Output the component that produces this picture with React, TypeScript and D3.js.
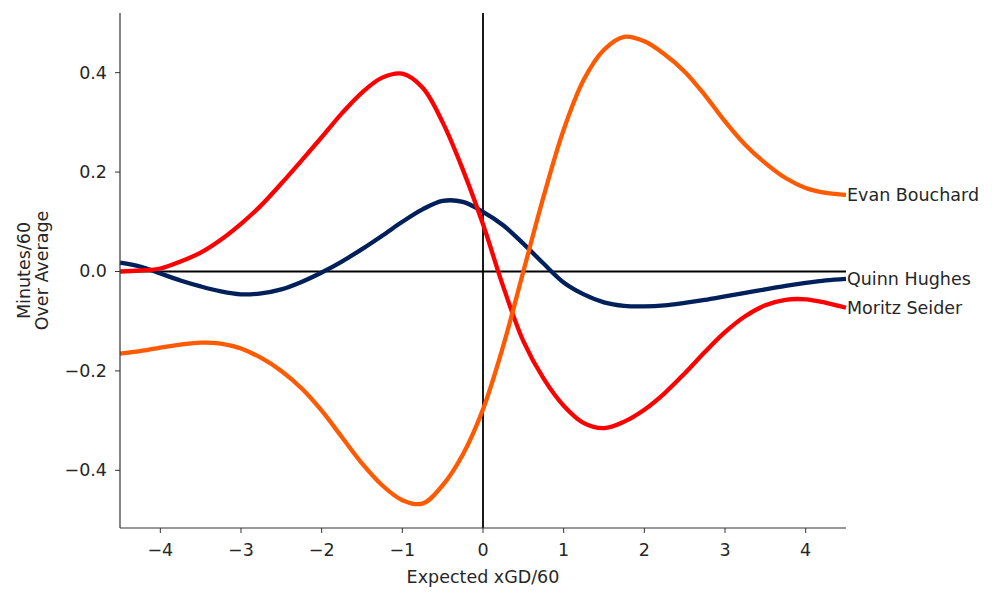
import React from "react";
import * as d3 from "d3";

const xValues = [-4.5, -4.25, -4.0, -3.75, -3.5, -3.25, -3.0, -2.75, -2.5, -2.25, -2.0, -1.75, -1.5, -1.25, -1.0, -0.75, -0.5, -0.25, 0, 0.25, 0.5, 0.75, 1.0, 1.25, 1.5, 1.75, 2.0, 2.25, 2.5, 2.75, 3.0, 3.25, 3.5, 3.75, 4.0, 4.25, 4.5];

const quinnHughes = [0.018, 0.01, -0.004, -0.018, -0.03, -0.04, -0.046, -0.044, -0.036, -0.021, -0.002, 0.02, 0.045, 0.072, 0.1, 0.125, 0.142, 0.14, 0.12, 0.093, 0.056, 0.016, -0.022, -0.046, -0.062, -0.069, -0.07, -0.068, -0.063, -0.057, -0.05, -0.043, -0.036, -0.029, -0.023, -0.018, -0.015];

const moritzSeider = [0.0, 0.002, 0.006, 0.02, 0.038, 0.064, 0.096, 0.133, 0.177, 0.223, 0.27, 0.318, 0.36, 0.39, 0.398, 0.37, 0.3, 0.205, 0.095, -0.03, -0.14, -0.215, -0.27, -0.305, -0.315, -0.302, -0.278, -0.245, -0.205, -0.162, -0.122, -0.09, -0.068, -0.057, -0.056, -0.063, -0.073];

const evanBouchard = [-0.165, -0.16, -0.153, -0.147, -0.143, -0.145, -0.155, -0.174, -0.2, -0.235, -0.28, -0.333, -0.386, -0.43, -0.46, -0.467, -0.43, -0.368, -0.277, -0.15, 0.0, 0.15, 0.285, 0.386, 0.446, 0.472, 0.463, 0.437, 0.402, 0.355, 0.302, 0.255, 0.218, 0.188, 0.168, 0.158, 0.154];

const seriesNames = ["Quinn Hughes", "Moritz Seider", "Evan Bouchard"];
const seriesValues = [quinnHughes, moritzSeider, evanBouchard];
const seriesColors = ["#00205B", "#FF0000", "#FF5A00"];

const xTicks = [-4, -3, -2, -1, 0, 1, 2, 3, 4];
const yTicks = [-0.4, -0.2, 0.0, 0.2, 0.4];

const W = 1000;
const H = 599;
const left = 120;
const right = 846;
const top = 13;
const bottom = 528;

const FONT = "DejaVu Sans, sans-serif";
const TEXT = "#262626";
const FS = 17.5;

export default function App() {
  const x = d3.scaleLinear().domain([-4.5, 4.5]).range([left, right]);
  const y = d3.scaleLinear().domain([-0.516, 0.52]).range([bottom, top]);

  const line = d3
    .line<number>()
    .x((_, i) => x(xValues[i]))
    .y((d) => y(d))
    .curve(d3.curveCatmullRom.alpha(0.5));

  const fmtY = (v: number) => v.toFixed(1).replace("-", "\u2212");
  const fmtX = (v: number) => String(v).replace("-", "\u2212");

  return (
    <svg
      width={W}
      height={H}
      style={{ position: "absolute", left: 0, top: 0, background: "#fff" }}
      fontFamily={FONT}
    >
      <line x1={left} x2={right} y1={y(0)} y2={y(0)} stroke="#000" strokeWidth={1.8} />
      <line x1={x(0)} x2={x(0)} y1={top} y2={bottom} stroke="#000" strokeWidth={1.8} />

      {seriesValues.map((vals, i) => (
        <path
          key={seriesNames[i]}
          d={line(vals) || ""}
          fill="none"
          stroke={seriesColors[i]}
          strokeWidth={4.3}
          strokeLinejoin="round"
          strokeLinecap="butt"
        />
      ))}

      <line x1={left} x2={left} y1={top} y2={bottom} stroke="#333" strokeWidth={1.2} />
      <line x1={left} x2={right} y1={bottom} y2={bottom} stroke="#333" strokeWidth={1.2} />

      {yTicks.map((t) => (
        <g key={"y" + t}>
          <line x1={left - 5} x2={left} y1={y(t)} y2={y(t)} stroke="#333" strokeWidth={1} />
          <text x={left - 13} y={y(t)} textAnchor="end" dominantBaseline="central" fontSize={FS} fill={TEXT}>
            {fmtY(t)}
          </text>
        </g>
      ))}

      {xTicks.map((t) => (
        <g key={"x" + t}>
          <line x1={x(t)} x2={x(t)} y1={bottom} y2={bottom + 5} stroke="#333" strokeWidth={1} />
          <text x={x(t)} y={bottom + 22} textAnchor="middle" dominantBaseline="central" fontSize={FS} fill={TEXT}>
            {fmtX(t)}
          </text>
        </g>
      ))}

      <text x={(left + right) / 2} y={577} textAnchor="middle" dominantBaseline="central" fontSize={FS} fill={TEXT}>
        Expected xGD/60
      </text>
      <g transform={`translate(0, ${(top + bottom) / 2}) rotate(-90)`}>
        <text x={0} y={24} textAnchor="middle" dominantBaseline="central" fontSize={FS} fill={TEXT}>
          Minutes/60
        </text>
        <text x={0} y={42} textAnchor="middle" dominantBaseline="central" fontSize={FS} fill={TEXT}>
          Over Average
        </text>
      </g>

      {seriesValues.map((vals, i) => (
        <text
          key={"lbl" + i}
          x={x(xValues[xValues.length - 1]) + 1}
          y={y(vals[vals.length - 1])}
          dominantBaseline="central"
          fontSize={FS}
          fill={TEXT}
        >
          {seriesNames[i]}
        </text>
      ))}
    </svg>
  );
}
